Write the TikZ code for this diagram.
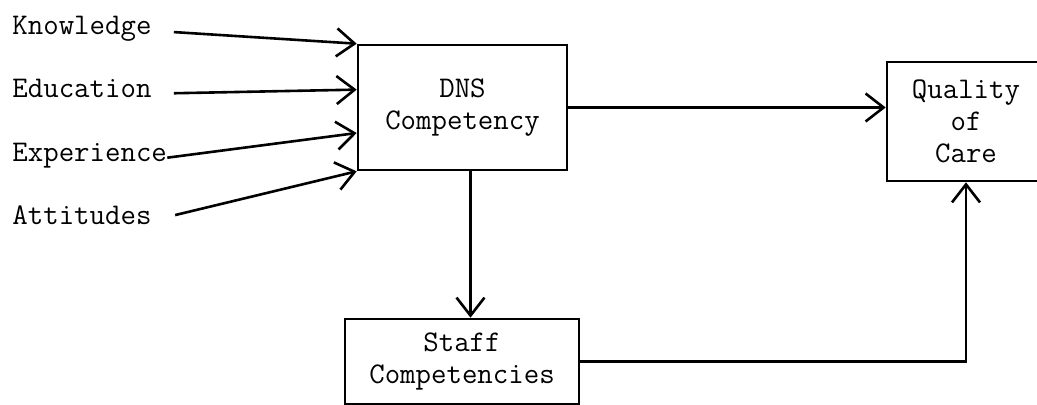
\documentclass[tikz,border=0pt]{standalone}
\usepackage{tikz}
\usetikzlibrary{arrows.meta,calc}
\tikzset{
  model box/.style={
    rectangle,
    draw=black,
    line width=1.3pt,
    align=center,
    font=\ttfamily\fontsize{15}{16}\selectfont,
    inner sep=3pt,
  },
  model label/.style={
    anchor=base west,
    inner sep=0pt,
    font=\ttfamily\fontsize{15}{16}\selectfont,
  },
  model arrow/.style={-{Straight Barb[length=9pt,width=14pt]}, line width=1.3pt},
}

\begin{document}
\begin{tikzpicture}[x=0.5pt,y=-0.5pt]
  \useasboundingbox (0,0) rectangle (1037,405);
  \node[model box,minimum width=104.5pt,minimum height=62.5pt] (dns) at (462.5,107.5) {DNS\\Competency};
  \node[model box,minimum width=79pt,minimum height=59.5pt] (qual) at (966,121.5) {Quality\\of\\Care};
  \node[model box,minimum width=117pt,minimum height=42.5pt] (staff) at (462,361.5) {Staff\\Competencies};

  \node[model label] (know) at (12,35) {Knowledge};
  \node[model label] (edu) at (12,98) {Education};
  \node[model label] (exp) at (12,162) {Experience};
  \node[model label] (att) at (12,225) {Attitudes};

  \draw[model arrow,shorten <=11pt] (know.mid east) -- (dns.north west);
  \draw[model arrow,shorten <=11pt] (edu.mid east) -- ($(dns.north west)!0.36!(dns.south west)$);
  \draw[model arrow] (exp.mid east) -- ($(dns.north west)!0.7!(dns.south west)$);
  \draw[model arrow,shorten <=12pt] (att.mid east) -- (dns.south west);

  \draw[model arrow] (dns.east) -- (dns.east -| qual.west);
  \draw[model arrow] ([xshift=4pt]dns.south) -- ([xshift=4pt]dns.south |- staff.north);
  \draw[model arrow] (staff.east) -| (qual.south);
\end{tikzpicture}
\end{document}
